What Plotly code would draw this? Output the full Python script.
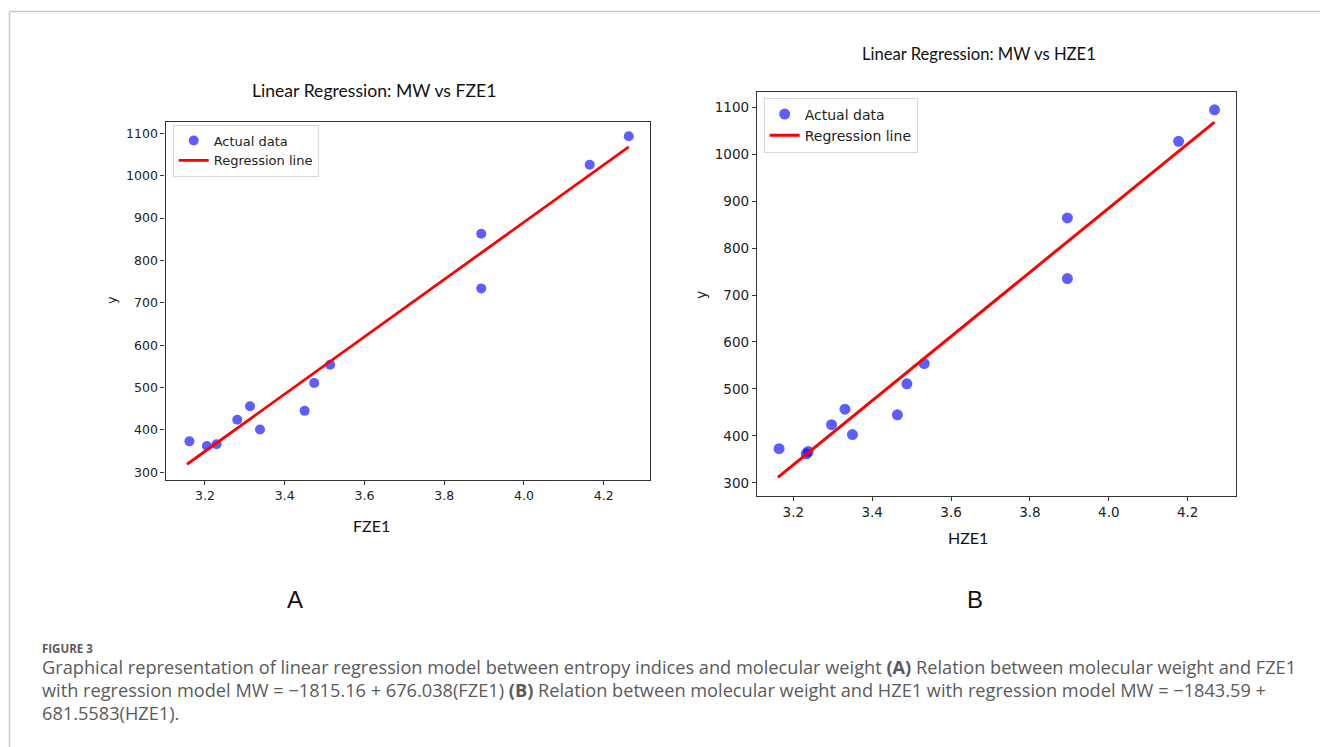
import plotly.graph_objects as go

# ---- data ----
fze1 = [3.161, 3.205, 3.229, 3.281, 3.313, 3.338, 3.450, 3.474, 3.514, 3.893, 3.893, 4.165, 4.263]
mw_a = [373, 362, 366, 424, 456, 401, 445, 511, 554, 863, 734, 1026, 1093]
line_a_x = [3.155, 4.263]
line_a_y = [319, 1068]

hze1 = [3.164, 3.233, 3.238, 3.297, 3.331, 3.350, 3.464, 3.488, 3.532, 3.895, 3.895, 4.177, 4.268]
mw_b = [373, 362, 367, 424, 457, 403, 445, 511, 554, 864, 735, 1027, 1094]
line_b_x = [3.161, 4.268]
line_b_y = [312, 1068]

x_ticks = [3.2, 3.4, 3.6, 3.8, 4.0, 4.2]
y_ticks = [300, 400, 500, 600, 700, 800, 900, 1000, 1100]

W, H = 1320, 747
def px(x):
    return x / W
def py(y):
    return 1 - y / H

BLUE = "rgba(0,0,255,0.63)"
RED = "#ff0000"
MPL_FONT = "DejaVu Sans"
CAL_FONT = "Lato"

fig = go.Figure()

fig.add_trace(go.Scatter(x=fze1, y=mw_a, mode="markers", name="Actual data",
                         marker=dict(color=BLUE, size=10), xaxis="x", yaxis="y", legend="legend"))
fig.add_trace(go.Scatter(x=line_a_x, y=line_a_y, mode="lines", name="Regression line",
                         line=dict(color=RED, width=2.8), xaxis="x", yaxis="y", legend="legend"))
fig.add_trace(go.Scatter(x=hze1, y=mw_b, mode="markers", name="Actual data",
                         marker=dict(color=BLUE, size=11), xaxis="x2", yaxis="y2", legend="legend2"))
fig.add_trace(go.Scatter(x=line_b_x, y=line_b_y, mode="lines", name="Regression line",
                         line=dict(color=RED, width=3), xaxis="x2", yaxis="y2", legend="legend2"))

axis_common = dict(showline=True, mirror=True, linecolor="#333333", linewidth=1.3,
                   ticks="outside", ticklen=4, tickcolor="#333333", tickwidth=1.2,
                   showgrid=False, zeroline=False)

fig.update_layout(
    width=W, height=H,
    margin=dict(l=0, r=0, t=0, b=0),
    paper_bgcolor="white", plot_bgcolor="white",
    xaxis=dict(domain=[px(165.5), px(649.5)], range=[3.101, 4.315], anchor="y",
               tickvals=x_ticks, ticktext=[f"{v:.1f}" for v in x_ticks],
               tickfont=dict(family=MPL_FONT, size=12.5, color="#222"), **axis_common),
    yaxis=dict(domain=[py(480), py(121.7)], range=[281.8, 1127.4], anchor="x",
               tickvals=y_ticks, tickfont=dict(family=MPL_FONT, size=12.5, color="#222"), **axis_common),
    xaxis2=dict(domain=[px(757), px(1236)], range=[3.108, 4.3225], anchor="y2",
                tickvals=x_ticks, ticktext=[f"{v:.1f}" for v in x_ticks],
                tickfont=dict(family=MPL_FONT, size=13.5, color="#222"), **axis_common),
    yaxis2=dict(domain=[py(496), py(92.3)], range=[272.3, 1131.3], anchor="x2",
                tickvals=y_ticks, tickfont=dict(family=MPL_FONT, size=13.5, color="#222"), **axis_common),
    legend=dict(x=px(172.7), y=py(124.5), xanchor="left", yanchor="top",
                bgcolor="white", bordercolor="#d8d8d8", borderwidth=1,
                font=dict(family=MPL_FONT, size=13, color="#222"),
                tracegroupgap=0, itemwidth=30),
    legend2=dict(x=px(763.7), y=py(97.5), xanchor="left", yanchor="top",
                 bgcolor="white", bordercolor="#d8d8d8", borderwidth=1,
                 font=dict(family=MPL_FONT, size=14, color="#222"),
                 tracegroupgap=0, itemwidth=30),
    showlegend=True,
)

ann = []
# chart titles
ann.append(dict(text="Linear Regression: MW vs FZE1", x=px(374), y=py(91), font=dict(family=CAL_FONT, size=17.6, color="#111")))
ann.append(dict(text="Linear Regression: MW vs HZE1", x=px(978.5), y=py(54), font=dict(family=CAL_FONT, size=16.6, color="#111")))
# axis labels
ann.append(dict(text="FZE1", x=px(371), y=py(525), font=dict(family=CAL_FONT, size=16, color="#111")))
ann.append(dict(text="HZE1", x=px(967.5), y=py(537), font=dict(family=CAL_FONT, size=16, color="#111")))
ann.append(dict(text="y", x=px(111), y=py(300), textangle=-90, font=dict(family=MPL_FONT, size=13, color="#222")))
ann.append(dict(text="y", x=px(701), y=py(295), textangle=-90, font=dict(family=MPL_FONT, size=14, color="#222")))
# panel letters
ann.append(dict(text="A", x=px(295), y=py(599), font=dict(family="Liberation Sans", size=24, color="#111")))
ann.append(dict(text="B", x=px(975), y=py(599), font=dict(family="Liberation Sans", size=24, color="#111")))
for a in ann:
    a.update(xref="paper", yref="paper", showarrow=False, xanchor="center", yanchor="middle")

CAP_FONT = dict(family="Open Sans", size=18.2, color="#5a5a5a")
cap = [
    dict(text="<b>FIGURE 3</b>", y=648, font=dict(family="Open Sans", size=11.5, color="#5a5a5a")),
    dict(text="Graphical representation of linear regression model between entropy indices and molecular weight <b>(A)</b> Relation between molecular weight and FZE1",
         y=667, font=CAP_FONT),
    dict(text="with regression model MW = \u22121815.16 + 676.038(FZE1) <b>(B)</b> Relation between molecular weight and HZE1 with regression model MW = \u22121843.59 +",
         y=690, font=CAP_FONT),
    dict(text="681.5583(HZE1).", y=713, font=CAP_FONT),
]
for c in cap:
    ann.append(dict(text=c["text"], x=px(40), y=py(c["y"]), xref="paper", yref="paper",
                    showarrow=False, xanchor="left", yanchor="middle", font=c["font"]))

fig.update_layout(annotations=ann)

# page frame lines
fig.update_layout(shapes=[
    dict(type="line", xref="paper", yref="paper", x0=px(9.5), x1=1, y0=py(11.5), y1=py(11.5),
         line=dict(color="#c8c8c8", width=1.5)),
    dict(type="line", xref="paper", yref="paper", x0=px(9.5), x1=px(9.5), y0=py(11.5), y1=0,
         line=dict(color="#c8c8c8", width=1.5)),
])

fig.write_html("out.html")
